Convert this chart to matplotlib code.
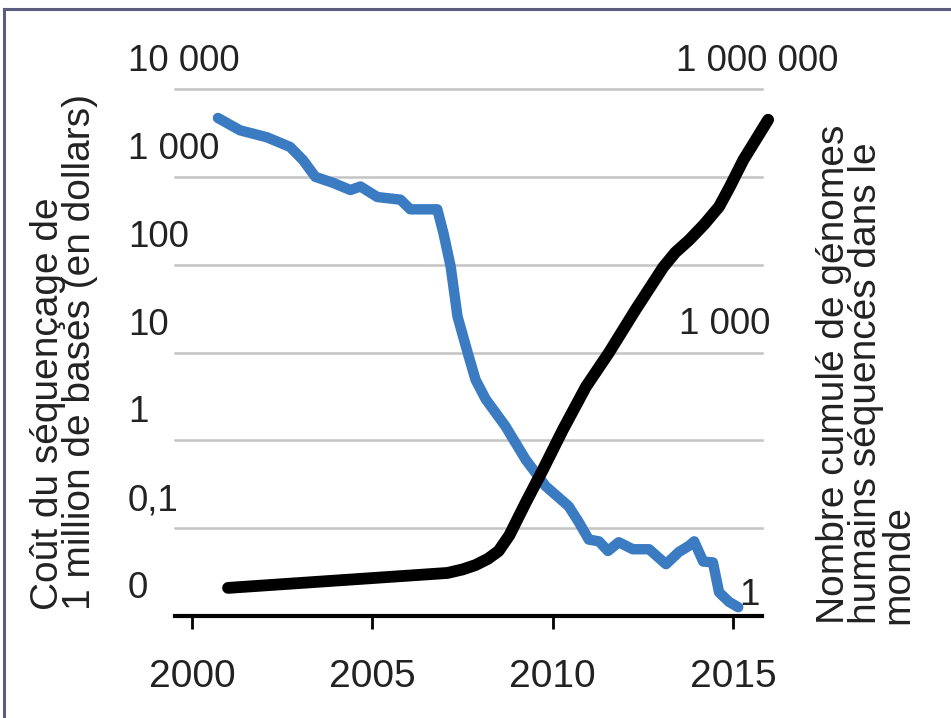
import matplotlib as M
M.use('agg')
import numpy as N
import matplotlib.pyplot as plt
from matplotlib.lines import Line2D

plt.rcParams['font.family'] = ['Liberation Sans', 'DejaVu Sans']

# cost of sequencing 1 Mb (USD), log10 values
cost_year = [2000.72, 2001.33, 2002.08, 2002.72, 2003.08, 2003.42, 2003.92, 2004.39,
             2004.67, 2005.14, 2005.78, 2006.05, 2006.42, 2006.8, 2006.97, 2007.17,
             2007.36, 2007.64, 2007.86, 2008.14, 2008.69, 2009.25, 2009.8, 2010.44,
             2010.72, 2011.0, 2011.28, 2011.53, 2011.83, 2012.22, 2012.67, 2013.14,
             2013.5, 2013.78, 2013.92, 2014.17, 2014.44, 2014.61, 2014.89, 2015.14]
cost_log = [3.67, 3.53, 3.45, 3.34, 3.19, 3.0, 2.93, 2.85,
            2.89, 2.77, 2.74, 2.63, 2.63, 2.63, 2.36, 1.98,
            1.41, 1.0, 0.69, 0.47, 0.16, -0.22, -0.52, -0.75,
            -0.93, -1.13, -1.15, -1.26, -1.16, -1.24, -1.24, -1.41,
            -1.27, -1.2, -1.15, -1.38, -1.39, -1.73, -1.84, -1.9]

# cumulative number of sequenced human genomes, log10 values
gen_year = [2001.0, 2007.08, 2007.5, 2007.86, 2008.2, 2008.5, 2008.8, 2009.25,
            2009.72, 2010.28, 2010.92, 2011.56, 2012.3, 2013.06, 2013.4, 2013.78,
            2014.2, 2014.61, 2014.9, 2015.28, 2015.97]
gen_log = [0.32, 0.49, 0.53, 0.58, 0.65, 0.74, 0.92, 1.29,
           1.66, 2.12, 2.61, 3.0, 3.49, 3.97, 4.14, 4.28,
           4.46, 4.66, 4.88, 5.19, 5.65]

left_vals = [0.01, 0.1, 1, 10, 100, 1000, 10000]
left_labels = ['0', '0,1', '1', '10', '100', '1 000', '10 000']
right_vals = [1, 1000, 1000000]
right_labels = ['1', '1 000', '1 000 000']
right_xpx = [760, 770, 838]
xticks = [2000, 2005, 2010, 2015]

cost = 10 ** N.array(cost_log)
gen = 10 ** N.array(gen_log)

fig = plt.figure(figsize=(9.51, 7.18), dpi=100)
ax = fig.add_axes([175/951, 1-616/718, 587/951, (616-89)/718])
ax2 = ax.twinx()
for a in (ax, ax2):
    a.set_yscale('log')
    for s in a.spines.values():
        s.set_visible(False)
    a.set_yticks([])
    a.minorticks_off()
    a.tick_params(axis='y', which='both', left=False, right=False,
                  labelleft=False, labelright=False)
ax.set_xlim(1999.53, 2015.8)
ax.set_ylim(0.01, 10000)
ax2.set_ylim(1, 1e6)

for v in left_vals[1:]:
    ax.axhline(v, color='#c4c4c4', lw=1.8, zorder=1, clip_on=False)
ax.spines['bottom'].set_visible(True)
ax.spines['bottom'].set_linewidth(3)
ax.spines['bottom'].set_zorder(4)

ax.set_xticks(xticks)
ax.tick_params(axis='x', length=9, width=2, color='black', pad=22,
               labelsize=28, labelcolor='#222222')

ax.plot(cost_year, cost, color='#3a7bc2', lw=7.5, solid_capstyle='round',
        solid_joinstyle='round', zorder=3)
ax2.plot(gen_year, gen, color='black', lw=8.5, solid_capstyle='round',
         solid_joinstyle='round', zorder=3, clip_on=False)

for v, t in zip(left_vals, left_labels):
    ax.annotate(t, xy=(-47/587, v), xycoords=('axes fraction', 'data'),
                xytext=(0, 10), textcoords='offset pixels', ha='left', va='bottom',
                fontsize=26.5, color='#222222')
for v, t, px in zip(right_vals, right_labels, right_xpx):
    ax2.annotate(t, xy=((px-175)/587, v), xycoords=('axes fraction', 'data'),
                 xytext=(0, 3 if v == 1 else 10), textcoords='offset pixels',
                 ha='right', va='bottom', fontsize=26.5, color='#222222')

fig.text(64/951, 1-352/718, 'Coût du séquençage de\n1 million de bases (en dollars)',
         rotation=90, ha='center', va='center', multialignment='left',
         fontsize=28, linespacing=0.86, color='#222222')
fig.text(866/951, 1-374/718, 'Nombre cumulé de génomes\nhumains séquencés dans le\nmonde',
         rotation=90, ha='center', va='center', multialignment='left',
         fontsize=28, linespacing=0.86, color='#222222')

# frame on top and left
fig.add_artist(Line2D([4/951, 4/951], [0, 1-9/718], transform=fig.transFigure,
                      color='#5c5c7c', lw=2.2))
fig.add_artist(Line2D([4/951, 1], [1-9/718, 1-9/718], transform=fig.transFigure,
                      color='#5c5c7c', lw=2.2))

fig.savefig('out.png', dpi=100)
plt.close(fig)
